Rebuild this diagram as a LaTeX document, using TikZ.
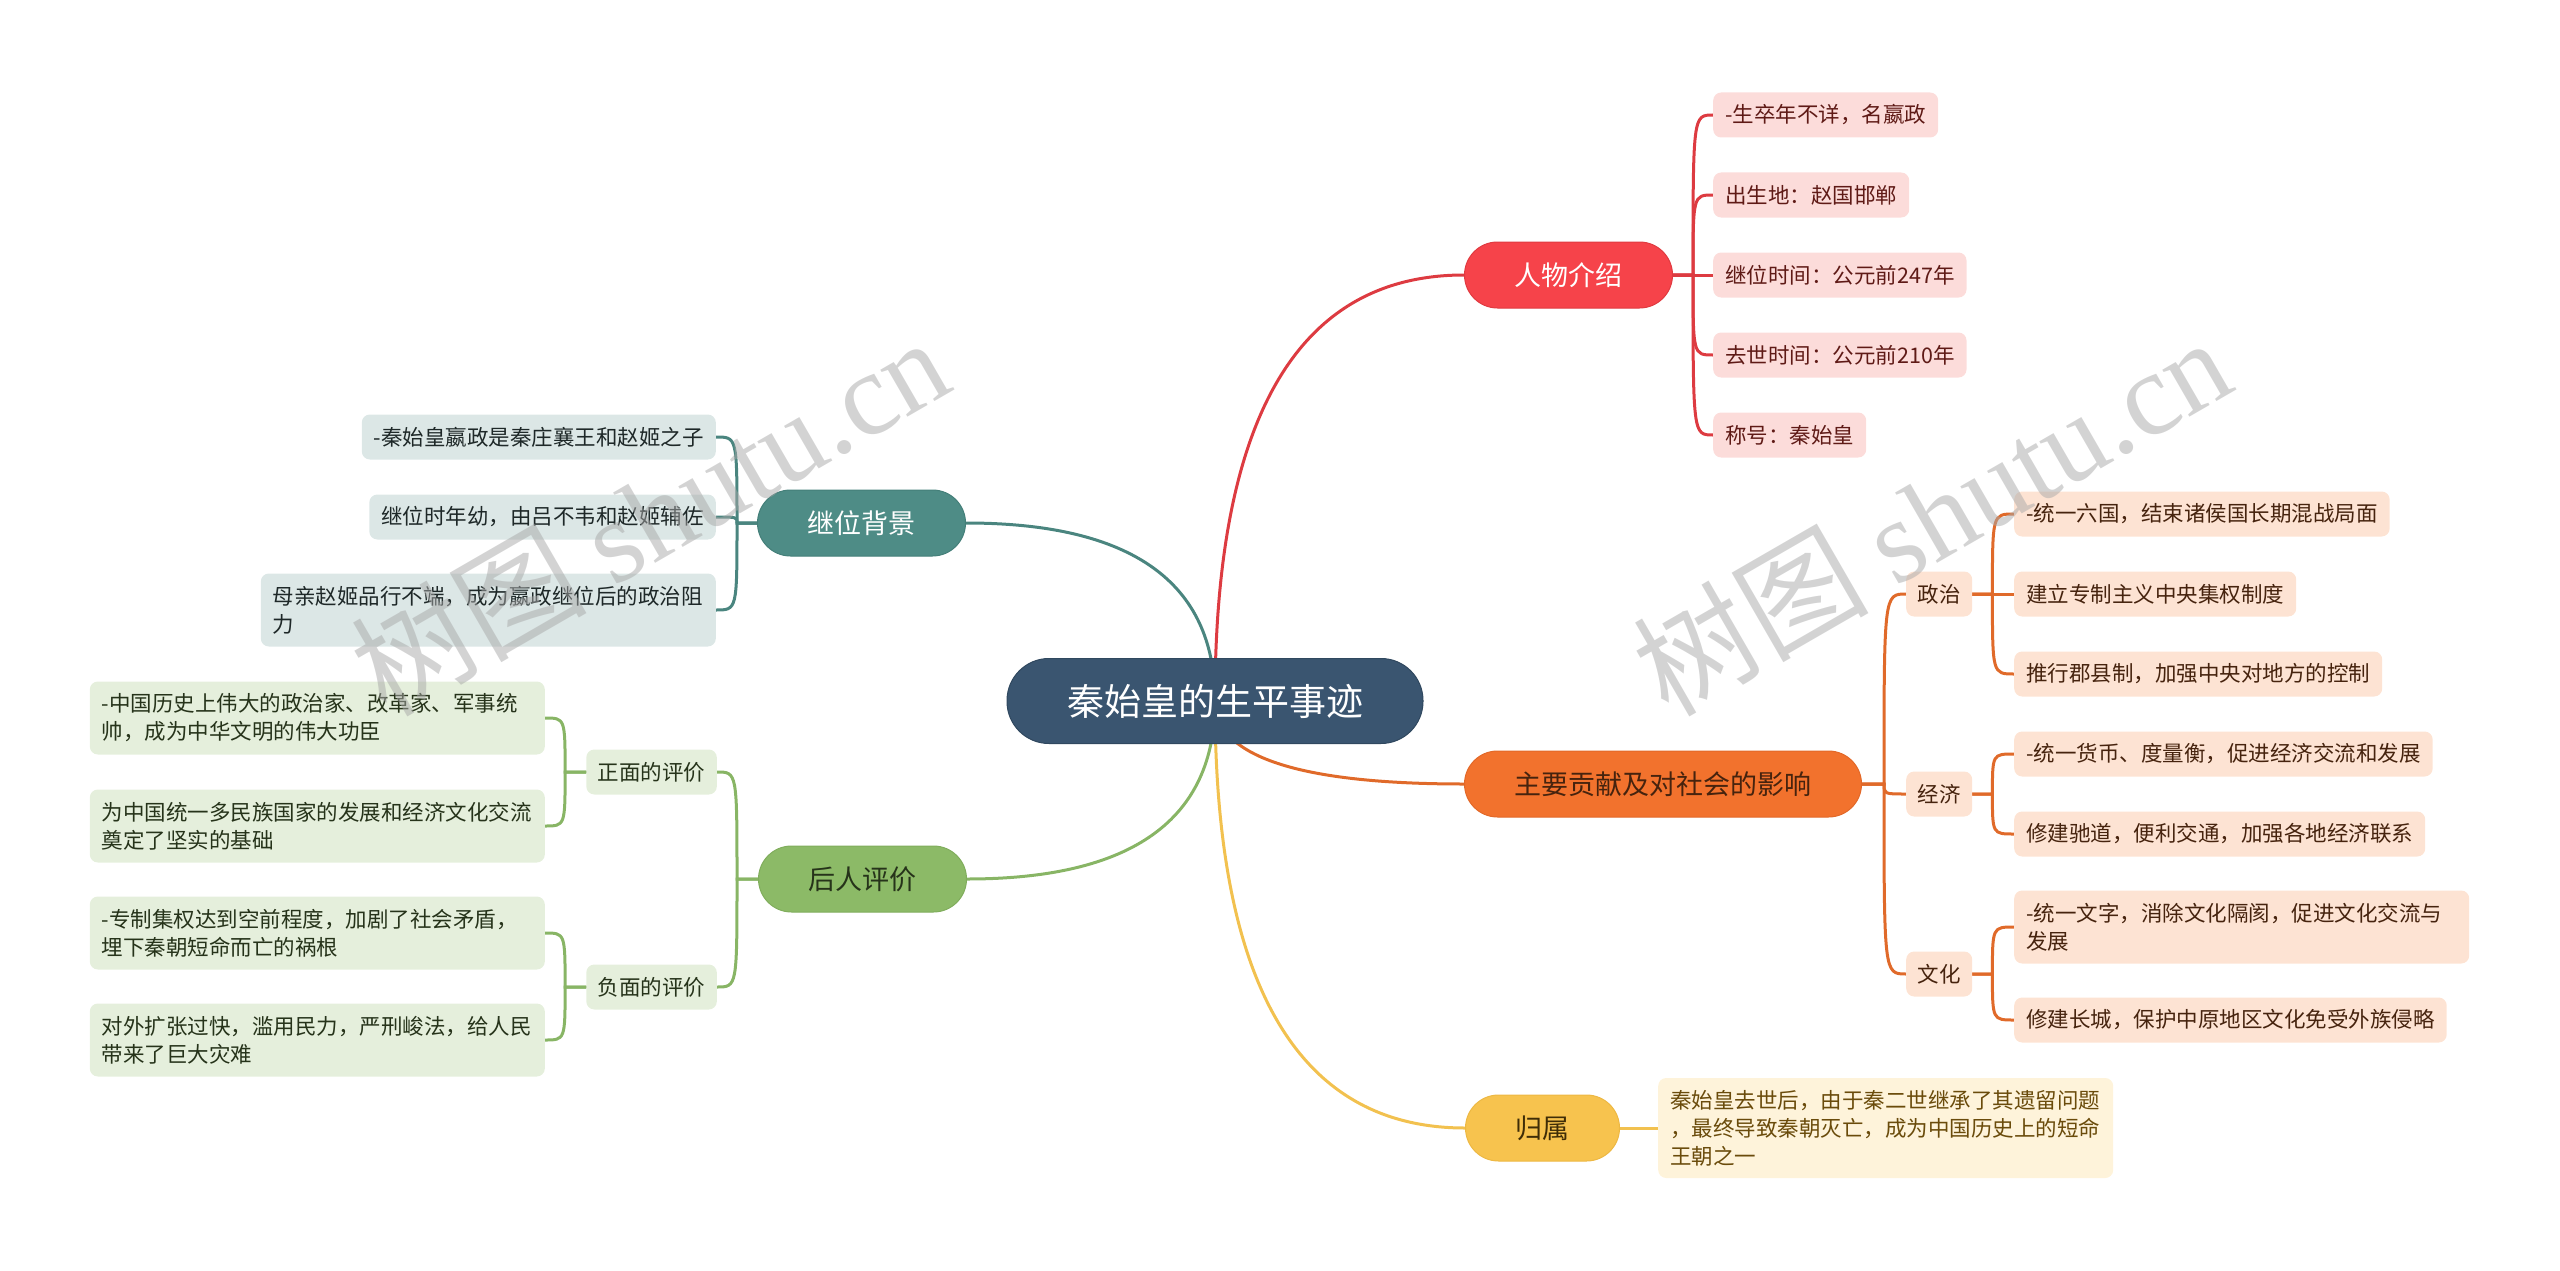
\documentclass[tikz,border=0pt]{standalone}
\usepackage{fontspec}
\setmainfont{Noto Sans CJK SC}
\newfontfamily\wmlatin{Liberation Serif}
\usetikzlibrary{calc,backgrounds}

\definecolor{rootc}{HTML}{3A5570}
\definecolor{rootb}{HTML}{30485F}
\definecolor{redn}{HTML}{F6434A}
\definecolor{redb}{HTML}{E03A40}
\definecolor{redl}{HTML}{DD3B41}
\definecolor{redf}{HTML}{FCDCDA}
\definecolor{redt}{HTML}{5F1A16}
\definecolor{tealn}{HTML}{4E8C86}
\definecolor{tealb}{HTML}{447F79}
\definecolor{teall}{HTML}{4A857F}
\definecolor{tealf}{HTML}{DCE7E6}
\definecolor{tealt}{HTML}{1E2828}
\definecolor{grnn}{HTML}{8CBA67}
\definecolor{grnb}{HTML}{80AD5C}
\definecolor{grnl}{HTML}{88B565}
\definecolor{grnf}{HTML}{E5EFDC}
\definecolor{grnt}{HTML}{26331A}
\definecolor{orgn}{HTML}{F2722D}
\definecolor{orgb}{HTML}{E26828}
\definecolor{orgl}{HTML}{E06A2A}
\definecolor{orgf}{HTML}{FDE3D3}
\definecolor{orgt}{HTML}{46230E}
\definecolor{ylwn}{HTML}{F7C34E}
\definecolor{ylwb}{HTML}{EDB843}
\definecolor{ylwl}{HTML}{F2C14F}
\definecolor{ylwf}{HTML}{FEF3DA}
\definecolor{ylwt}{HTML}{6A4B0B}
\definecolor{wmc}{HTML}{A8A8A8}

\begin{document}
\begin{tikzpicture}[x=1pt,y=-1pt,
  mainnode/.style={rounded corners=33pt, minimum height=66pt, inner xsep=50pt, inner ysep=0pt, line width=1pt, font=\fontsize{27}{32}\selectfont},
  leafnode/.style={rounded corners=8pt, inner xsep=12pt, inner ysep=4pt, minimum height=45pt, font=\fontsize{21.5}{28}\selectfont, align=left},
  subnode/.style={leafnode, inner xsep=11.5pt},
  twoline/.style={text width=431pt, minimum height=73pt},
  threeline/.style={text width=431pt, minimum height=100pt},
  conn/.style={line width=3pt, line cap=round},
  wmark/.style={rotate=30, text=wmc, opacity=0.5, inner sep=0pt}
]
\useasboundingbox (0,0) rectangle (2560,1271);

% root
\node[fill=rootc, draw=rootb, line width=1pt, rounded corners=42pt, minimum height=85pt, inner xsep=60pt, text=white, font=\fontsize{37}{44}\selectfont] (root) at (1215,701) {秦始皇的生平事迹};

% main topics
\node[mainnode, fill=redn, draw=redb, text=white, anchor=west] (rw) at (1464,275) {人物介绍};
\node[mainnode, fill=orgn, draw=orgb, text=orgt, anchor=west] (zy) at (1464,784) {主要贡献及对社会的影响};
\node[mainnode, fill=ylwn, draw=ylwb, text=ylwt!60!black, anchor=west] (gs) at (1465,1128) {归属};
\node[mainnode, fill=tealn, draw=tealb, text=white, anchor=east] (jw) at (966,523) {继位背景};
\node[mainnode, fill=grnn, draw=grnb, text=grnt, anchor=east] (hr) at (967,879) {后人评价};

% red leaves
\node[leafnode, fill=redf, text=redt, anchor=west] (r1) at (1713,115) {-生卒年不详，名嬴政};
\node[leafnode, fill=redf, text=redt, anchor=west] (r2) at (1713,195) {出生地：赵国邯郸};
\node[leafnode, fill=redf, text=redt, anchor=west] (r3) at (1713,275) {继位时间：公元前247年};
\node[leafnode, fill=redf, text=redt, anchor=west] (r4) at (1713,355) {去世时间：公元前210年};
\node[leafnode, fill=redf, text=redt, anchor=west] (r5) at (1713,435) {称号：秦始皇};

% orange subs and leaves
\node[subnode, fill=orgf, text=orgt, anchor=west] (zz) at (1906,594) {政治};
\node[subnode, fill=orgf, text=orgt, anchor=west] (jj) at (1906,794) {经济};
\node[subnode, fill=orgf, text=orgt, anchor=west] (wh) at (1906,974) {文化};
\node[leafnode, fill=orgf, text=orgt, anchor=west] (o1) at (2014,514) {-统一六国，结束诸侯国长期混战局面};
\node[leafnode, fill=orgf, text=orgt, anchor=west] (o2) at (2014,594) {建立专制主义中央集权制度};
\node[leafnode, fill=orgf, text=orgt, anchor=west] (o3) at (2014,674) {推行郡县制，加强中央对地方的控制};
\node[leafnode, fill=orgf, text=orgt, anchor=west] (o4) at (2014,754) {-统一货币、度量衡，促进经济交流和发展};
\node[leafnode, fill=orgf, text=orgt, anchor=west] (o5) at (2014,834) {修建驰道，便利交通，加强各地经济联系};
\node[leafnode, twoline, fill=orgf, text=orgt, anchor=west] (o6) at (2014,927) {-统一文字，消除文化隔阂，促进文化交流与\\发展};
\node[leafnode, fill=orgf, text=orgt, anchor=west] (o7) at (2014,1020) {修建长城，保护中原地区文化免受外族侵略};

% yellow leaf
\node[leafnode, threeline, fill=ylwf, text=ylwt, anchor=west] (y1) at (1658,1128) {秦始皇去世后，由于秦二世继承了其遗留问题\\，最终导致秦朝灭亡，成为中国历史上的短命\\王朝之一};

% teal leaves
\node[leafnode, fill=tealf, text=tealt, anchor=east] (t1) at (716,437) {-秦始皇嬴政是秦庄襄王和赵姬之子};
\node[leafnode, fill=tealf, text=tealt, anchor=east] (t2) at (716,517) {继位时年幼，由吕不韦和赵姬辅佐};
\node[leafnode, twoline, fill=tealf, text=tealt, anchor=east] (t3) at (716,610) {母亲赵姬品行不端，成为嬴政继位后的政治阻\\力};

% green subs and leaves
\node[subnode, fill=grnf, text=grnt, anchor=east] (zm) at (717,772) {正面的评价};
\node[subnode, fill=grnf, text=grnt, anchor=east] (fm) at (717,987) {负面的评价};
\node[leafnode, twoline, fill=grnf, text=grnt, anchor=east] (g1) at (545,718) {-中国历史上伟大的政治家、改革家、军事统\\帅，成为中华文明的伟大功臣};
\node[leafnode, twoline, fill=grnf, text=grnt, anchor=east] (g2) at (545,826) {为中国统一多民族国家的发展和经济文化交流\\奠定了坚实的基础};
\node[leafnode, twoline, fill=grnf, text=grnt, anchor=east] (g3) at (545,933) {-专制集权达到空前程度，加剧了社会矛盾，\\埋下秦朝短命而亡的祸根};
\node[leafnode, twoline, fill=grnf, text=grnt, anchor=east] (g4) at (545,1040) {对外扩张过快，滥用民力，严刑峻法，给人民\\带来了巨大灾难};

% junctions
\coordinate (rwJ) at ($(rw.east)+(20,0)$);
\coordinate (zyJ) at ($(zy.east)+(22,0)$);
\coordinate (zzJ) at ($(zz.east)+(20,0)$);
\coordinate (jjJ) at ($(jj.east)+(20,0)$);
\coordinate (whJ) at ($(wh.east)+(20,0)$);
\coordinate (jwJ) at ($(jw.west)+(-20,0)$);
\coordinate (hrJ) at ($(hr.west)+(-21,0)$);
\coordinate (zmJ) at ($(zm.west)+(-21,0)$);
\coordinate (fmJ) at ($(fm.west)+(-21,0)$);

\begin{scope}[on background layer]
% root to main topics (quadratic curves)
\draw[conn, redl] (root.center) .. controls ($(root.center)!0.6667!(root.center |- rw.west)$) and ($(rw.west)!0.6667!(root.center |- rw.west)$) .. (rw.west);
\draw[conn, orgl] (root.center) .. controls ($(root.center)!0.6667!(root.center |- zy.west)$) and ($(zy.west)!0.6667!(root.center |- zy.west)$) .. (zy.west);
\draw[conn, ylwl] (root.center) .. controls ($(root.center)!0.6667!(root.center |- gs.west)$) and ($(gs.west)!0.6667!(root.center |- gs.west)$) .. (gs.west);
\draw[conn, teall] (root.center) .. controls ($(root.center)!0.6667!(root.center |- jw.east)$) and ($(jw.east)!0.6667!(root.center |- jw.east)$) .. (jw.east);
\draw[conn, grnl] (root.center) .. controls ($(root.center)!0.6667!(root.center |- hr.east)$) and ($(hr.east)!0.6667!(root.center |- hr.east)$) .. (hr.east);

% red brackets
\foreach \c in {r1,r2,r3,r4,r5}
  \draw[conn, redl] (rw.east) -- (rwJ) .. controls (rwJ |- \c.west) .. (\c.west);
% orange brackets
\foreach \c in {zz,jj,wh}
  \draw[conn, orgl] (zy.east) -- (zyJ) .. controls (zyJ |- \c.west) .. (\c.west);
\foreach \c in {o1,o2,o3}
  \draw[conn, orgl] (zz.east) -- (zzJ) .. controls (zzJ |- \c.west) .. (\c.west);
\foreach \c in {o4,o5}
  \draw[conn, orgl] (jj.east) -- (jjJ) .. controls (jjJ |- \c.west) .. (\c.west);
\foreach \c in {o6,o7}
  \draw[conn, orgl] (wh.east) -- (whJ) .. controls (whJ |- \c.west) .. (\c.west);
% yellow
\draw[conn, ylwl] (gs.east) -- (y1.west);
% teal brackets
\foreach \c in {t1,t2,t3}
  \draw[conn, teall] (jw.west) -- (jwJ) .. controls (jwJ |- \c.east) .. (\c.east);
% green brackets
\foreach \c in {zm,fm}
  \draw[conn, grnl] (hr.west) -- (hrJ) .. controls (hrJ |- \c.east) .. (\c.east);
\foreach \c in {g1,g2}
  \draw[conn, grnl] (zm.west) -- (zmJ) .. controls (zmJ |- \c.east) .. (\c.east);
\foreach \c in {g3,g4}
  \draw[conn, grnl] (fm.west) -- (fmJ) .. controls (fmJ |- \c.east) .. (\c.east);
\end{scope}

% watermarks
\node[wmark] (wm1) at (649,515) {\fontsize{118}{118}\selectfont 树图 {\wmlatin shutu.cn}};
\node[wmark] (wm2) at (1931,515) {\fontsize{118}{118}\selectfont 树图 {\wmlatin shutu.cn}};
\end{tikzpicture}
\end{document}
